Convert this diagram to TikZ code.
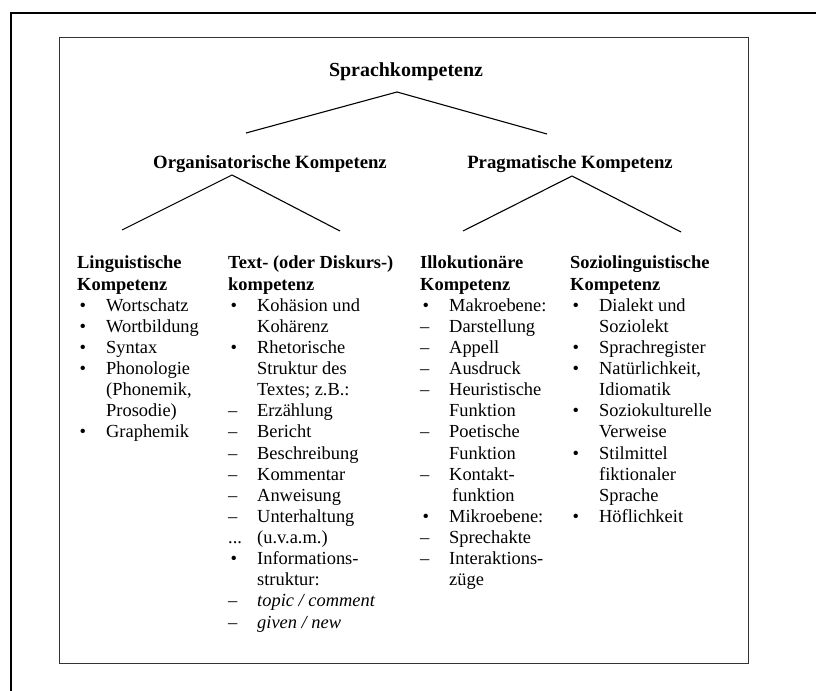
\documentclass[tikz,border=0pt]{standalone}
\usepackage{fontspec}
\setmainfont{Liberation Serif}
\usetikzlibrary{calc,positioning}
\newcommand{\bul}{\makebox[29bp][l]{\hspace{2.5bp}\textbullet}}
\newcommand{\dsh}{\makebox[29bp][l]{\textendash}}
\newcommand{\dts}{\makebox[29bp][l]{...}}
\newcommand{\ind}{\hspace*{29bp}}

\begin{document}
\begin{tikzpicture}[x=1bp,y=-1bp,
  titlenode/.style={inner sep=0pt,font=\bfseries\fontsize{18.8}{21}\selectfont},
  colnode/.style={anchor=north west,inner sep=0pt,align=left,font=\fontsize{18.5}{21.2}\selectfont},
  branch/.style={line width=1.1bp}]
\useasboundingbox (0,0) rectangle (816,691);
% frames
\draw[line width=2.2bp] (11,691) -- (11,13) -- (816,13);
\draw[line width=1bp,black!80] (59,38) rectangle (748,663);
% top levels
\node[titlenode,font=\bfseries\fontsize{20}{22}\selectfont] (root) at (406,72) {Sprachkompetenz};
\node[titlenode] (orga) at (270,164) {Organisatorische Kompetenz};
\node[titlenode] (prag) at (570,164) {Pragmatische Kompetenz};
\coordinate (rootpeak) at (397,92);
\coordinate (orgatip) at (246,133);
\coordinate (pragtip) at (547,134);
\coordinate (orgapeak) at (232,175);
\coordinate (pragpeak) at (572,176);
\coordinate (lingtip) at (122,230);
\coordinate (texttip) at (340,231);
\coordinate (illotip) at (463,231);
\coordinate (soztip) at (681,232);
\draw[branch] (orgatip) -- (rootpeak) -- (pragtip);
\draw[branch] (lingtip) -- (orgapeak) -- (texttip);
\draw[branch] (illotip) -- (pragpeak) -- (soztip);
% columns
\node[colnode] (ling) at (77,256) {%
  \textbf{Linguistische}\\
  \textbf{Kompetenz}\\
  \bul Wortschatz\\
  \bul Wortbildung\\
  \bul Syntax\\
  \bul Phonologie\\
  \ind (Phonemik,\\
  \ind Prosodie)\\
  \bul Graphemik};
\node[colnode] (text) at (228,256) {%
  \textbf{Text- (oder Diskurs-)}\\
  \textbf{kompetenz}\\
  \bul Kohäsion und\\
  \ind Kohärenz\\
  \bul Rhetorische\\
  \ind Struktur des\\
  \ind Textes; z.B.:\\
  \dsh Erzählung\\
  \dsh Bericht\\
  \dsh Beschreibung\\
  \dsh Kommentar\\
  \dsh Anweisung\\
  \dsh Unterhaltung\\
  \dts (u.v.a.m.)\\
  \bul Informations-\\
  \ind struktur:\\
  \dsh \textit{topic / comment}\\
  \dsh \textit{given / new}};
\node[colnode] (illo) at (420,256) {%
  \textbf{Illokutionäre}\\
  \textbf{Kompetenz}\\
  \bul Makroebene:\\
  \dsh Darstellung\\
  \dsh Appell\\
  \dsh Ausdruck\\
  \dsh Heuristische\\
  \ind Funktion\\
  \dsh Poetische\\
  \ind Funktion\\
  \dsh Kontakt-\\
  \ind \hspace*{3bp}funktion\\
  \bul Mikroebene:\\
  \dsh Sprechakte\\
  \dsh Interaktions-\\
  \ind züge};
\node[colnode] (sozio) at (570,256) {%
  \textbf{Soziolinguistische}\\
  \textbf{Kompetenz}\\
  \bul Dialekt und\\
  \ind Soziolekt\\
  \bul Sprachregister\\
  \bul Natürlichkeit,\\
  \ind Idiomatik\\
  \bul Soziokulturelle\\
  \ind Verweise\\
  \bul Stilmittel\\
  \ind fiktionaler\\
  \ind Sprache\\
  \bul Höflichkeit};
\end{tikzpicture}
\end{document}
